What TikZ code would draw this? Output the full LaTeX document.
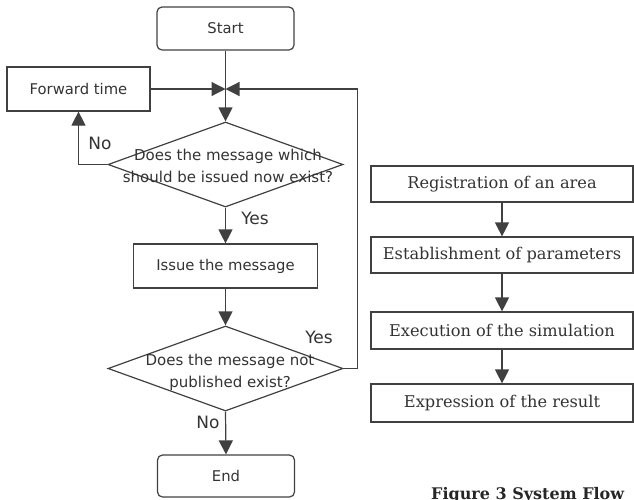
\documentclass[tikz,border=0pt]{standalone}
\usepackage{fontspec}
\newfontfamily\gothic{DejaVu Sans}
\newfontfamily\century{DejaVu Serif}
\usetikzlibrary{shapes.geometric, arrows.meta}
\usetikzlibrary{positioning}

\begin{document}
\begin{tikzpicture}[x=1pt, y=-1pt,
        line/.style={draw=black!75, line width=1.2pt},
        arr/.style={line, -{Triangle[width=14pt,length=14pt]}},
        flowbox/.style={line, rectangle, inner sep=0pt, text=black!80,
            font=\gothic\fontsize{14.8}{17}\selectfont},
        terminal/.style={flowbox, rounded corners=5pt, minimum width=137pt, minimum height=43pt},
        decision/.style={line, diamond, inner sep=0pt, minimum width=235pt, minimum height=85pt},
        question/.style={align=center, text=black!80, font=\gothic\fontsize{15}{22}\selectfont},
        answer/.style={text=black!80, font=\gothic\fontsize{17}{19}\selectfont},
        stepbox/.style={line, rectangle, inner sep=0pt, minimum width=262pt, text=black!80,
            font=\century\fontsize{16.2}{18}\selectfont}]

        \useasboundingbox (0,0) rectangle (634,499);

        % Left flow
        \node (start) [terminal] at (225.5, 28.5) {Start};
        \node (fwd) [flowbox, minimum width=143pt, minimum height=44pt] at (78.5, 89) {Forward time};
        \coordinate (j) at (225.5, 89);
        \node (q1) [decision] at (225.5, 164.5) {};
        \node (q1text) [question] at (228, 166) {Does the message which\\should be issued now exist?};
        \node (issue) [flowbox, minimum width=184pt, minimum height=44pt] at (225.5, 266) {Issue the message};
        \node (q2) [decision] at (225.5, 368.5) {};
        \node (q2text) [question] at (230, 372) {Does the message not\\published exist?};
        \node (end) [terminal, minimum height=42pt] at (226, 476) {End};

        % Answers
        \node (no1) [answer] at (100, 143) {No};
        \node (yes1) [answer] at (255, 218) {Yes};
        \node (yes2) [answer] at (319, 337) {Yes};
        \node (no2) [answer] at (208, 422) {No};

        % Connectors of the left flow
        \draw[line] (start) -- (j);
        \draw[arr] (j) -- (q1.north);
        \draw[arr] (fwd.east) -- (j);
        \draw[arr] (q2.east) -- ++(14,0) |- (j);
        \draw[arr] (q1.west) -| (fwd.south);
        \draw[arr] (q1.south) -- (issue.north);
        \draw[arr] (issue.south) -- (q2.north);
        \draw[arr] (q2.south) -- (end.north);

        % Right flow
        \node (area) [stepbox, minimum height=36pt] at (502, 184) {Registration of an area};
        \node (param) [stepbox, minimum height=36pt] at (502, 255) {Establishment of parameters};
        \node (sim) [stepbox, minimum height=37pt] at (502, 330.5) {Execution of the simulation};
        \node (result) [stepbox, minimum height=38pt] at (502, 403) {Expression of the result};

        \draw[arr] (area) -- (param);
        \draw[arr] (param) -- (sim);
        \draw[arr] (sim) -- (result);

        % Caption (cut by the lower edge)
        \node (caption) [anchor=north west, inner sep=0pt, text=black!85,
            font=\century\bfseries\fontsize{16}{18}\selectfont] at (431, 487) {Figure 3 System Flow};
\end{tikzpicture}
\end{document}
